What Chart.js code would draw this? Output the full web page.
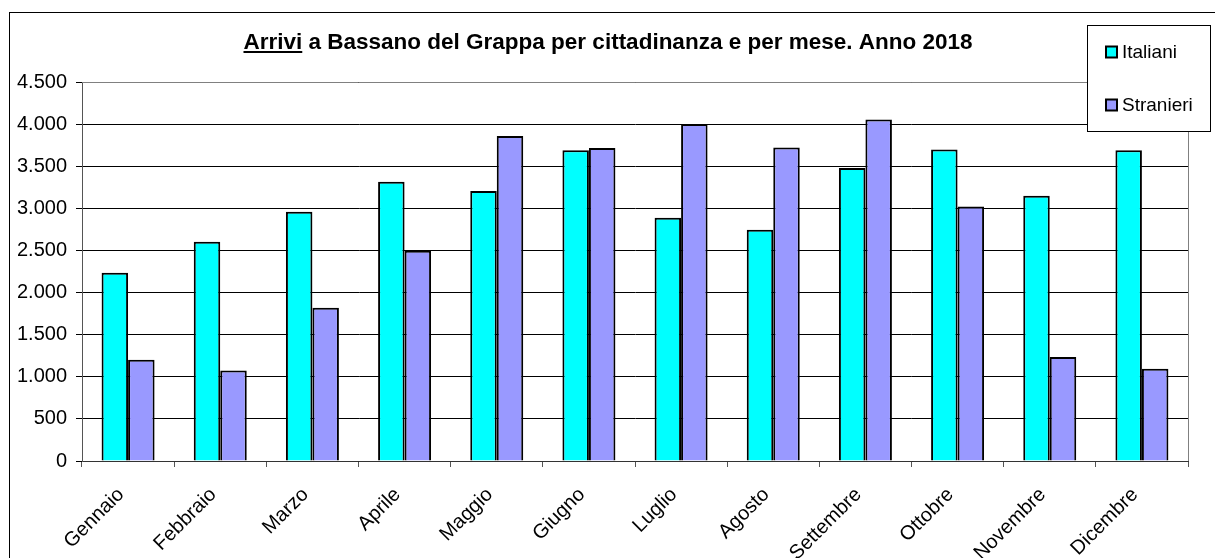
<!DOCTYPE html>
<html>
<head>
<meta charset="utf-8">
<script src="https://cdn.jsdelivr.net/npm/chart.js@4.4.1/dist/chart.umd.min.js"></script>
<style>
  html, body { margin: 0; padding: 0; background: #fff; }
  #wrap { position: relative; width: 1215px; height: 558px; }
</style>
</head>
<body>
<div id="wrap"><canvas id="arriviChart" width="1215" height="558"></canvas></div>
<script>
// dati
const mesi = ['Gennaio', 'Febbraio', 'Marzo', 'Aprile', 'Maggio', 'Giugno',
  'Luglio', 'Agosto', 'Settembre', 'Ottobre', 'Novembre', 'Dicembre'];
const italiani  = [2235, 2603, 2959, 3315, 3205, 3691, 2888, 2745, 3478, 3700, 3149, 3691];
const stranieri = [1202, 1076, 1820, 2496, 3858, 3715, 4000, 3723, 4056, 3023, 1234, 1096];

const FONT = 'Liberation Sans, Arial, sans-serif';

// 4500 -> "4.500"
function formatIt(v) {
  return String(v).replace(/\B(?=(\d{3})+(?!\d))/g, '.');
}

// titolo, legenda e cornice disegnati a mano
const cornice = {
  id: 'cornice',
  afterDraw(chart) {
    const ctx = chart.ctx;
    const a = chart.chartArea;
    ctx.save();

    // cornice esterna
    ctx.strokeStyle = '#000';
    ctx.lineWidth = 1;
    ctx.strokeRect(9.5, 12.5, 1215, 560);

    // bordo area del grafico (sopra e a destra)
    ctx.strokeStyle = '#808080';
    ctx.beginPath();
    ctx.moveTo(a.left, a.top + 0.5);
    ctx.lineTo(a.right + 0.5, a.top + 0.5);
    ctx.lineTo(a.right + 0.5, a.bottom);
    ctx.stroke();

    // titolo con "Arrivi" sottolineato
    const parola = 'Arrivi';
    const resto = ' a Bassano del Grappa per cittadinanza e per mese. Anno 2018';
    ctx.font = 'bold 22.5px ' + FONT;
    ctx.fillStyle = '#000';
    ctx.textBaseline = 'alphabetic';
    ctx.textAlign = 'left';
    const wTot = ctx.measureText(parola + resto).width;
    const wPar = ctx.measureText(parola).width;
    const x0 = 608 - wTot / 2;
    ctx.fillText(parola + resto, x0, 49);
    ctx.fillRect(x0, 51, wPar, 2);

    // legenda
    ctx.fillStyle = '#fff';
    ctx.fillRect(1087, 25, 123, 106);
    ctx.strokeStyle = '#000';
    ctx.strokeRect(1087.5, 25.5, 123, 106);
    const yVoci = [52, 105];
    ctx.font = '19px ' + FONT;
    ctx.textBaseline = 'middle';
    chart.data.datasets.forEach((ds, i) => {
      const y = yVoci[i];
      ctx.fillStyle = ds.backgroundColor;
      ctx.fillRect(1106, y - 5.5, 11, 11);
      ctx.lineWidth = 2;
      ctx.strokeStyle = '#000';
      ctx.strokeRect(1106, y - 5.5, 11, 11);
      ctx.fillStyle = '#000';
      ctx.fillText(ds.label, 1122, y + 1);
    });

    ctx.restore();
  }
};

const ctx = document.getElementById('arriviChart').getContext('2d');
new Chart(ctx, {
  type: 'bar',
  data: {
    labels: mesi,
    datasets: [{
      label: 'Italiani',
      data: italiani,
      backgroundColor: '#00ffff',
      borderColor: '#000',
      borderWidth: 2,
      barPercentage: 1,
      categoryPercentage: 0.575
    }, {
      label: 'Stranieri',
      data: stranieri,
      backgroundColor: '#9999ff',
      borderColor: '#000',
      borderWidth: 2,
      barPercentage: 1,
      categoryPercentage: 0.575
    }]
  },
  options: {
    responsive: false,
    animation: false,
    devicePixelRatio: 1,
    layout: { padding: { left: 10, top: 82, right: 27, bottom: 0 } },
    plugins: {
      legend: { display: false },
      title: { display: false },
      tooltip: { enabled: false }
    },
    scales: {
      x: {
        grid: { offset: true, drawOnChartArea: false, color: '#555', tickLength: 6 },
        border: { color: '#333', width: 1 },
        ticks: {
          color: '#000',
          maxRotation: 45, minRotation: 45,
          padding: 16,
          labelOffset: -7,
          font: { family: FONT, size: 20 }
        },
        afterFit(scale) { scale.height = 97; }
      },
      y: {
        min: 0, max: 4500,
        grid: { color: '#000', tickLength: 6 },
        border: { color: '#555', width: 1 },
        ticks: {
          stepSize: 500,
          color: '#000',
          padding: 9,
          font: { family: FONT, size: 20 },
          callback: v => formatIt(v)
        },
        afterFit(scale) { scale.width = 72; }
      }
    }
  },
  plugins: [cornice]
});
</script>
</body>
</html>
